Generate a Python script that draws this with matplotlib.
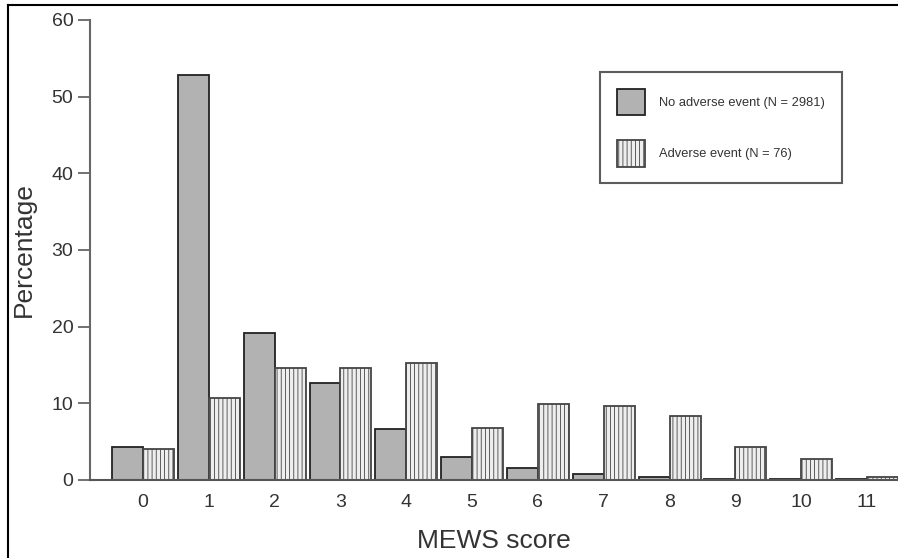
import numpy as np
import matplotlib.pyplot as plt
from matplotlib.lines import Line2D

plt.rcParams['font.family'] = ['Liberation Sans', 'DejaVu Sans']
plt.rcParams['hatch.color'] = '#9a9a9a'
plt.rcParams['hatch.linewidth'] = 0.6

scores = list(range(12))
no_event = [4.3, 52.8, 19.2, 12.6, 6.6, 3.0, 1.5, 0.8, 0.35, 0.12, 0.08, 0.12]
adverse = [4.0, 10.7, 14.6, 14.6, 15.3, 6.8, 9.9, 9.7, 8.35, 4.35, 2.7, 0.35]
labels = ['No adverse event (N = 2981)', 'Adverse event (N = 76)']

fig = plt.figure(figsize=(8.98, 5.58), dpi=100)
ax = fig.add_axes([0.1002, 0.1398, 0.8998, 0.8244])

x = np.arange(len(scores))
w = 0.47
ax.bar(x - w / 2, no_event, w, color='#b2b2b2', edgecolor='#222222', linewidth=1.3,
       label=labels[0])
ax.bar(x + w / 2, adverse, w, color='#eeeeee', edgecolor='#444444', linewidth=1.3,
       hatch='||||', label=labels[1])

ax.set_xlim(-0.805, 11.47)
ax.set_ylim(0, 60)
ax.set_yticks(range(0, 61, 10))
ax.set_xticks(x)
ax.set_xticklabels([str(s) for s in scores])

for s in ['top', 'right']:
    ax.spines[s].set_visible(False)
ax.spines['left'].set_color('#666666')
ax.spines['bottom'].set_color('#555555')
ax.spines['left'].set_linewidth(1.5)
ax.spines['bottom'].set_linewidth(1.5)
ax.tick_params(axis='y', length=9, width=1.3, color='#666666', labelsize=14,
               labelcolor='#333333', pad=3)
ax.tick_params(axis='x', length=0, labelsize=14, labelcolor='#333333', pad=10)

ax.set_xlabel('MEWS score', fontsize=19, color='#333333', labelpad=13)
ax.set_ylabel('Percentage', fontsize=19, color='#333333', labelpad=11)

leg = ax.legend(loc='upper left', bbox_to_anchor=(0.631, 0.887), fontsize=9.3,
                frameon=True, fancybox=False, edgecolor='#333333',
                handlelength=2.2, handleheight=2.8, handletextpad=1.1,
                borderpad=1.3, labelspacing=1.9, borderaxespad=0)
leg.get_frame().set_linewidth(1.5)
for t in leg.get_texts():
    t.set_color('#333333')

# figure border (left and top edges visible in the original)
fig.add_artist(Line2D([0.009, 0.009], [0, 0.991], transform=fig.transFigure,
                      color='black', linewidth=1.5))
fig.add_artist(Line2D([0.009, 1.0], [0.991, 0.991], transform=fig.transFigure,
                      color='black', linewidth=1.5))

fig.savefig('out.png', dpi=100)
